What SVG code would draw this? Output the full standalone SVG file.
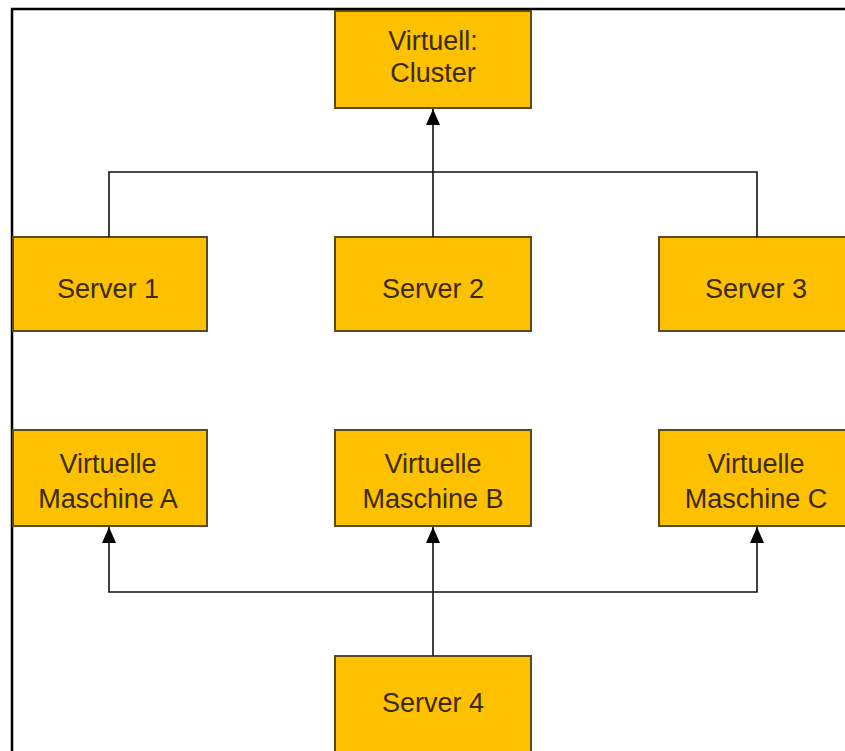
<svg xmlns="http://www.w3.org/2000/svg" width="845" height="751" viewBox="0 0 845 751">
<style>
.box{fill:#fdc100;stroke:#5a4a20;stroke-width:2}
.lbl{font-family:"Liberation Sans",Arial,sans-serif;font-size:27px;fill:#3a2a08;text-anchor:middle}
.con{fill:none;stroke:#111;stroke-width:1.6}
</style>
<defs>
<marker id="arr" viewBox="0 0 16 14" refX="16" refY="7" markerWidth="16" markerHeight="14" markerUnits="userSpaceOnUse" orient="auto">
<path d="M0,0 L16,7 L0,14 Z" fill="#000"/>
</marker>
</defs>
<rect x="0" y="0" width="845" height="751" fill="#fff"/>
<path d="M12,751 V9 H845" fill="none" stroke="#000" stroke-width="2.5"/>
<g id="cluster"><rect class="box" x="335" y="11" width="196" height="97"/><text class="lbl" x="433" y="50">Virtuell:</text><text class="lbl" x="433" y="82">Cluster</text></g>
<g id="server1"><rect class="box" x="13" y="237" width="194" height="94"/><text class="lbl" x="108" y="298">Server 1</text></g>
<g id="server2"><rect class="box" x="335" y="237" width="196" height="94"/><text class="lbl" x="433" y="298">Server 2</text></g>
<g id="server3"><rect class="box" x="659" y="237" width="190" height="94"/><text class="lbl" x="756" y="298">Server 3</text></g>
<g id="vmA"><rect class="box" x="13" y="430" width="194" height="96"/><text class="lbl" x="108" y="473">Virtuelle</text><text class="lbl" x="108" y="508">Maschine A</text></g>
<g id="vmB"><rect class="box" x="335" y="430" width="196" height="96"/><text class="lbl" x="433" y="473">Virtuelle</text><text class="lbl" x="433" y="508">Maschine B</text></g>
<g id="vmC"><rect class="box" x="659" y="430" width="190" height="96"/><text class="lbl" x="756" y="473">Virtuelle</text><text class="lbl" x="756" y="508">Maschine C</text></g>
<g id="server4"><rect class="box" x="335" y="656" width="196" height="100"/><text class="lbl" x="433" y="712">Server 4</text></g>
<g id="connectors">
<path class="con" d="M109,237 V172 H757 V237"/>
<path class="con" d="M433,237 V109" marker-end="url(#arr)"/>
<path class="con" d="M433,656 V527" marker-end="url(#arr)"/>
<path class="con" d="M433,592 H109 V527" marker-end="url(#arr)"/>
<path class="con" d="M433,592 H757 V527" marker-end="url(#arr)"/>
</g>
</svg>
